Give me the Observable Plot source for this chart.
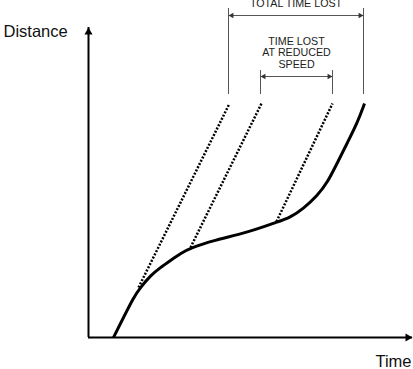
<!DOCTYPE html>
<html><head><meta charset="utf-8">
<script src="https://cdn.jsdelivr.net/npm/d3@7"></script>
<script src="https://cdn.jsdelivr.net/npm/@observablehq/plot@0.6"></script>
<style>body{margin:0;background:#fff}</style>
</head><body><div id="chart"></div>
<script>
// Vehicle trajectory (time vs distance)
const curveTime = [25, 35, 45, 52, 62, 72, 82, 92, 102, 125, 159, 187, 202, 215, 229, 239, 249, 259, 269, 276];
const curveDistance = [0, 20, 40, 50, 62, 70, 77, 84, 89.5, 97, 105, 115, 120, 129, 142, 155, 175, 195, 215, 234];
// Dotted reference lines (undisturbed speed)
const tangentFromTime = [50, 102, 188];
const tangentFromDistance = [50, 90, 116];
const tangentToTime = [141, 173, 244];
const tangentToDistance = [234, 234, 234];
// Dimension brackets
const bracketLabels = ["TOTAL TIME LOST", "TIME LOST\nAT REDUCED\nSPEED"];
const bracketStart = [140, 172];
const bracketEnd = [275, 244];
const bracketArrowDistance = [322, 261];
const bracketTopDistance = [329, 267];
const bracketBottomDistance = [243, 243];
// Axes
const axisLabels = ["Distance", "Time"];
const timeAxisEnd = 324;
const distanceAxisEnd = 310;

const curve = curveTime.map((t, i) => ({t, d: curveDistance[i]}));
const tangents = tangentFromTime.map((t, i) => ({
  t1: t, d1: tangentFromDistance[i], t2: tangentToTime[i], d2: tangentToDistance[i]
}));
const brackets = bracketLabels.map((label, i) => ({
  label, start: bracketStart[i], end: bracketEnd[i], arrow: bracketArrowDistance[i],
  top: bracketTopDistance[i], bottom: bracketBottomDistance[i]
}));
const verticals = brackets.flatMap(b => [
  {t: b.start, y1: b.bottom, y2: b.top},
  {t: b.end, y1: b.bottom, y2: b.top}
]);

const chart = Plot.plot({
  width: 413, height: 369, margin: 0,
  x: {domain: [-88, 325], axis: null},
  y: {domain: [-32, 337], axis: null},
  style: {fontFamily: "'Liberation Sans', Arial, sans-serif", background: "#fff"},
  marks: [
    // brackets
    Plot.ruleX(verticals, {x: "t", y1: "y1", y2: "y2", stroke: "#555", strokeWidth: 1}),
    Plot.link(brackets, {x1: "start", x2: "end", y1: "arrow", y2: "arrow", stroke: "#555", strokeWidth: 1}),
    Plot.dot(brackets, {x: "start", y: "arrow", symbol: "triangle", r: 2.1, fill: "#333", rotate: -90, dx: 3.3}),
    Plot.dot(brackets, {x: "end", y: "arrow", symbol: "triangle", r: 2.1, fill: "#333", rotate: 90, dx: -3.3}),
    Plot.text(brackets, {x: b => (b.start + b.end) / 2, y: "arrow", text: "label", lineAnchor: "bottom",
      dy: -8.5, fontSize: 10.7, lineHeight: 1.08, fill: "#222"}),
    // dotted tangents
    Plot.link(tangents, {x1: "t1", y1: "d1", x2: "t2", y2: "d2", stroke: "#000", strokeWidth: 2.5,
      strokeDasharray: "2,1.6"}),
    // trajectory
    Plot.line(curve, {x: "t", y: "d", curve: "basis", stroke: "#000", strokeWidth: 3, strokeLinecap: "butt"}),
    // axes
    Plot.ruleX([0], {y1: 0, y2: distanceAxisEnd, stroke: "#000", strokeWidth: 2}),
    Plot.ruleY([0], {x1: 0, x2: timeAxisEnd, stroke: "#000", strokeWidth: 2}),
    Plot.dot([0], {x: 0, y: distanceAxisEnd, symbol: "triangle", r: 3, fill: "#000", dy: 4.67}),
    Plot.dot([0], {x: timeAxisEnd, y: 0, symbol: "triangle", r: 3, fill: "#000", rotate: 90, dx: -4.67}),
    Plot.text([axisLabels[0]], {text: d => d, frameAnchor: "top-left", textAnchor: "start", lineAnchor: "bottom",
      dx: 3, dy: 36, fontSize: 16.5, fill: "#111"}),
    Plot.text([axisLabels[1]], {text: d => d, frameAnchor: "bottom-right", textAnchor: "end", lineAnchor: "bottom",
      dx: -2, dy: -3, fontSize: 16.5, fill: "#111"})
  ]
});
document.getElementById("chart").appendChild(chart);
</script>
</body></html>
